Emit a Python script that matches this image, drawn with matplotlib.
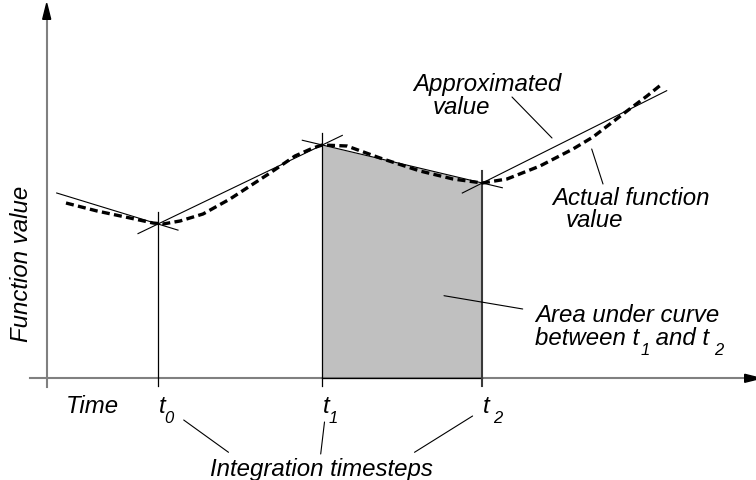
import matplotlib
matplotlib.use("Agg")
import matplotlib.pyplot as plt
from matplotlib.patches import Polygon

plt.rcParams["font.family"] = ["Liberation Sans", "DejaVu Sans"]

# timesteps and the function value at each step
step_names = ["0", "1", "2"]
step_time = [111.3, 275.6, 435.6]
step_value = [154.3, 233.3, 195.3]

# piecewise-linear approximation nodes (one before t0, one after t2)
approx_time = [10.0, 111.3, 275.6, 435.6, 620.0]
approx_value = [185.3, 154.3, 233.3, 195.3, 287.6]

# actual function (dashed curve)
curve_time = [19.3, 50.3, 83.3, 106.3, 116.3, 133.3, 156.3, 183.3, 203.3, 223.3,
              248.3, 266.3, 275.6, 300.3, 333.3, 373.3, 406.3, 435.6, 460.3,
              493.3, 526.3, 546.3, 580.3, 600.3, 615.3]
curve_value = [175.3, 167.3, 160.3, 155.3, 154.3, 157.3, 164.3, 179.3, 192.3, 205.3,
               222.3, 230.3, 233.3, 232.3, 220.3, 207.3, 199.3, 195.3, 199.3,
               212.3, 229.3, 241.3, 267.3, 282.3, 294.3]

W, H = 756, 481
fig = plt.figure(figsize=(W / 100, H / 100), dpi=100)
ax = fig.add_axes([0, 0, 1, 1])
ax.set_xlim(-46.7, W - 46.7)
ax.set_ylim(379.3 - H, 379.3)
ax.axis("off")

axis_grey = "#808080"
fs = 17.3
sub_fs = 12

# axes with arrow heads
ax.plot([-17, 712], [0, 0], color=axis_grey, lw=1.5, zorder=1)
ax.plot([0, 0], [-9, 365], color=axis_grey, lw=1.5, zorder=1)
ax.add_patch(Polygon([[0, 375], [-4, 359], [4, 359]], closed=True, color="black", zorder=3))
ax.add_patch(Polygon([[714, 0], [698, 4], [698, -4]], closed=True, color="black", zorder=3))

# shaded area between t1 and t2
ax.fill_between(step_time[1:3], step_value[1:3], 0, color="#c0c0c0", lw=0, zorder=0)
ax.plot(step_time[1:3], [0, 0], color="black", lw=0.9, zorder=2)

# vertical lines at the timesteps
for i, (t, v) in enumerate(zip(step_time, step_value)):
    if i == 2:
        ax.plot([t, t], [-8, v + 12], color="#3a3a3a", lw=1.5, zorder=2)
    else:
        ax.plot([t, t], [-8, v + 12], color="black", lw=0.9, zorder=2)

# approximation segments, extended a little past the interior nodes
ext = 20
n = len(approx_time) - 1
for i in range(n):
    x0, x1 = approx_time[i], approx_time[i + 1]
    y0, y1 = approx_value[i], approx_value[i + 1]
    m = (y1 - y0) / (x1 - x0)
    xs = x0 - (ext if i > 0 else 0)
    xe = x1 + (ext if i < n - 1 else 0)
    ax.plot([xs, xe], [y0 + m * (xs - x0), y0 + m * (xe - x0)], color="black", lw=0.8, zorder=3)

# actual function
ax.plot(curve_time, curve_value, color="black", lw=2.4, linestyle=(0, (2.4, 1.3)),
        dash_capstyle="butt", zorder=4)

# labels
ax.text(-24.7, 115.3, "Function value", rotation=90, style="italic", fontsize=fs,
        ha="center", va="center")
ax.text(19.3, -33.7, "Time", style="italic", fontsize=fs, ha="left", va="baseline")
sub_dx = [6.0, 6.5, 11.0]
for t, name, dx in zip(step_time, step_names, sub_dx):
    ax.text(t + 0.5, -33.7, "t", style="italic", fontsize=fs, ha="left", va="baseline")
    ax.text(t + dx, -43.7, name, style="italic", fontsize=sub_fs, ha="left", va="baseline")
ax.text(163.3, -96.7, "Integration timesteps", style="italic", fontsize=fs,
        ha="left", va="baseline")

ax.text(366.3, 288.6, "Approximated", style="italic", fontsize=fs, va="baseline")
ax.text(386.3, 265.3, "value", style="italic", fontsize=fs, va="baseline")
ax.text(505.0, 174.3, "Actual function", style="italic", fontsize=fs, va="baseline")
ax.text(519.3, 152.6, "value", style="italic", fontsize=fs, va="baseline")
ax.text(488.3, 57.6, "Area under curve", style="italic", fontsize=fs, va="baseline")

# second line of the area label, with subscripts chained after each other
fig.canvas.draw()
renderer = fig.canvas.get_renderer()
inv = ax.transData.inverted()
parts = [("between t", fs, 0, 0), ("1", sub_fs, 1, -10), (" and t", fs, 0, 0), ("2", sub_fs, 5, -10)]
x = 488.3
for txt, size, gap, dy in parts:
    t_obj = ax.text(x + gap, 34.3 + dy, txt, style="italic", fontsize=size, va="baseline")
    bb = t_obj.get_window_extent(renderer)
    x = inv.transform((bb.x1, bb.y0))[0]

# leader lines
leaders = [
    ((465.3, 281.3), (505.3, 240.3)),
    ((545.0, 229.3), (556.3, 194.3)),
    ((397.3, 82.6), (476.0, 69.3)),
    ((137.0, -41.7), (181.8, -74.0)),
    ((277.8, -43.7), (274.0, -75.7)),
    ((425.9, -37.7), (367.8, -74.0)),
]
for a, b in leaders:
    ax.annotate("", xy=a, xytext=b, arrowprops=dict(arrowstyle="-", color="black", lw=0.8,
                                                    shrinkA=0, shrinkB=0))

fig.savefig("out.png", dpi=100)
